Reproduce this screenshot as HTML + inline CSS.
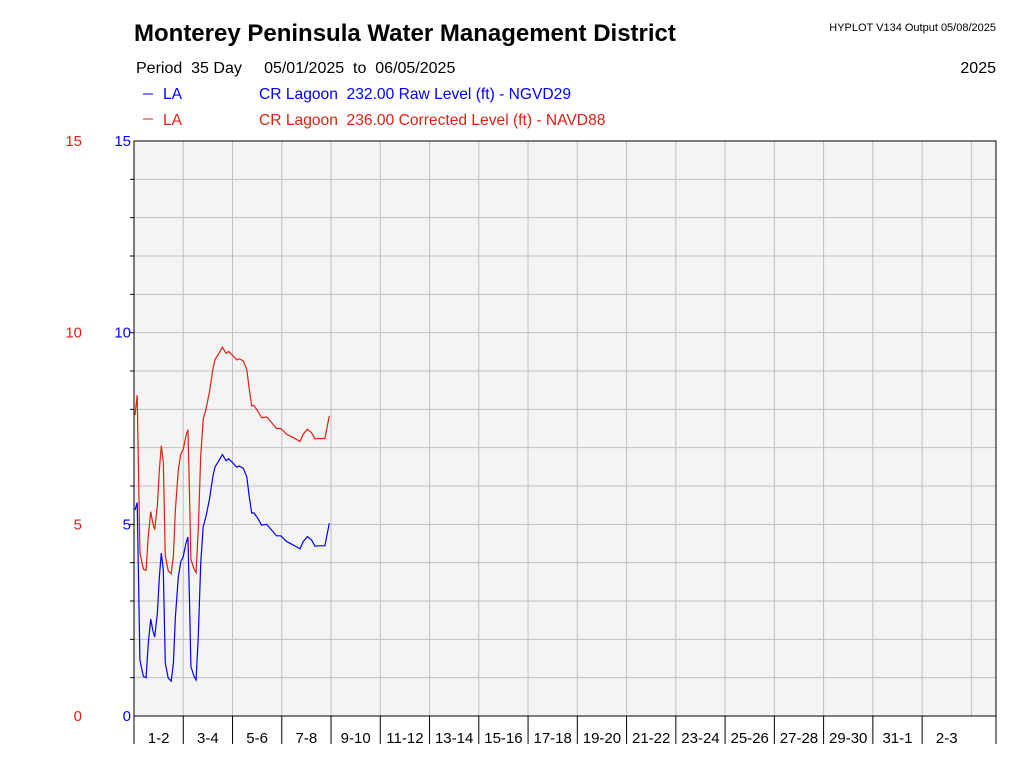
<!DOCTYPE html>
<html><head><meta charset="utf-8"><style>
body{margin:0;background:#fff;width:1024px;height:768px;overflow:hidden;font-family:"Liberation Sans",sans-serif}
svg text{font-family:"Liberation Sans",sans-serif}
</style></head><body>
<svg id="c" width="1024" height="768">
<text x="134" y="41" font-size="24" font-weight="bold">Monterey Peninsula Water Management District</text>
<text x="996" y="31" font-size="11" text-anchor="end">HYPLOT V134  Output 05/08/2025</text>
<text x="136" y="73" font-size="16" xml:space="preserve">Period  35 Day     05/01/2025  to  06/05/2025</text>
<text x="996" y="73" font-size="16" text-anchor="end">2025</text>
<g>
<line x1="143" y1="94" x2="153" y2="94" stroke="#0000ff"/>
<text x="163" y="99" font-size="15.6" fill="#0000ff">LA</text>
<text x="259" y="99" font-size="15.6" fill="#0000ff" xml:space="preserve">CR Lagoon  232.00 Raw Level (ft) - NGVD29</text>
</g>
<g>
<line x1="143" y1="119" x2="153" y2="119" stroke="#e02010"/>
<text x="163" y="125" font-size="15.6" fill="#e02010">LA</text>
<text x="259" y="125" font-size="15.6" fill="#e02010" xml:space="preserve">CR Lagoon  236.00 Corrected Level (ft) - NAVD88</text>
</g>
<rect x="134" y="141" width="862" height="575" fill="#f4f4f4"/>
<g id="grid"></g>
<g id="axes"></g>
<g id="series"></g>
</svg>
<script>
const days=[0.04,0.13,0.24,0.38,0.49,0.58,0.68,0.76,0.84,0.95,1.03,1.11,1.19,1.27,1.39,1.51,1.60,1.68,1.80,1.90,2.00,2.11,2.19,2.25,2.31,2.44,2.52,2.61,2.71,2.81,2.92,3.06,3.20,3.29,3.42,3.59,3.74,3.84,3.97,4.17,4.28,4.44,4.58,4.68,4.78,4.87,5.05,5.18,5.39,5.59,5.79,5.96,6.20,6.47,6.74,6.87,7.04,7.21,7.35,7.48,7.75,7.93];
const rawLevel=[5.37,5.57,1.46,1.03,1.0,1.9,2.53,2.24,2.06,2.69,3.63,4.25,3.81,1.38,0.99,0.91,1.38,2.58,3.63,4.03,4.16,4.51,4.67,3.1,1.29,1.03,0.94,2.07,3.99,4.94,5.2,5.64,6.24,6.5,6.63,6.82,6.66,6.71,6.63,6.49,6.52,6.46,6.24,5.72,5.29,5.3,5.13,4.98,5.0,4.85,4.7,4.7,4.55,4.46,4.36,4.55,4.68,4.59,4.43,4.44,4.44,5.03];
const correctedLevel=[7.85,8.37,4.26,3.83,3.8,4.7,5.33,5.04,4.86,5.49,6.43,7.05,6.61,4.18,3.79,3.71,4.18,5.38,6.43,6.83,6.96,7.31,7.47,5.9,4.09,3.83,3.74,4.87,6.79,7.74,8.0,8.44,9.04,9.3,9.43,9.62,9.46,9.51,9.43,9.29,9.32,9.26,9.04,8.52,8.09,8.1,7.93,7.78,7.8,7.65,7.5,7.5,7.35,7.26,7.16,7.35,7.48,7.39,7.23,7.24,7.24,7.83];
const yTicks=[0,5,10,15];
const xLabels=["1-2","3-4","5-6","7-8","9-10","11-12","13-14","15-16","17-18","19-20","21-22","23-24","25-26","27-28","29-30","31-1","2-3"];
const X0=134,X1=996,Y0=716,Y1=141,NDAYS=35,YMAX=15;
const xs=d=>X0+d*(X1-X0)/NDAYS, ys=v=>Y0-v*(Y0-Y1)/YMAX;
const NS="http://www.w3.org/2000/svg";
function mk(p,t,a){const e=document.createElementNS(NS,t);for(const k in a)e.setAttribute(k,a[k]);p.appendChild(e);return e;}
const grid=document.getElementById('grid'),axes=document.getElementById('axes'),ser=document.getElementById('series');
for(let v=1;v<YMAX;v++){const l=mk(grid,'line',{x1:X0,x2:X1,y1:ys(v),y2:ys(v),stroke:'#c0c0c0'});


mk(axes,'line',{x1:X0-4,x2:X0,y1:ys(v),y2:ys(v),stroke:'#000'});}
for(let d=2;d<NDAYS;d+=2){const l=mk(grid,'line',{x1:xs(d),x2:xs(d),y1:Y1,y2:Y0,stroke:'#c0c0c0'});

}
const b=mk(axes,'rect',{x:X0,y:Y1,width:X1-X0,height:Y0-Y1,fill:'none',stroke:'#000'});


yTicks.forEach(v=>{
const t1=mk(axes,'text',{x:82,y:ys(v)+5,'font-size':15,fill:'#e02010','text-anchor':'end'});t1.textContent=v;


const t2=mk(axes,'text',{x:131,y:ys(v)+5,'font-size':15,fill:'#0000ff','text-anchor':'end'});t2.textContent=v;

});
xLabels.forEach((s,i)=>{
mk(axes,'line',{x1:xs(i*2),x2:xs(i*2),y1:Y0,y2:744,stroke:'#000'});
const t=mk(axes,'text',{x:xs(i*2+1),y:743,'font-size':15,'text-anchor':'middle'});t.textContent=s;

});
mk(axes,'line',{x1:X1,x2:X1,y1:Y0,y2:744,stroke:'#000'});
function line(vals,col,name){const p=mk(ser,'polyline',{points:days.map((d,i)=>xs(d)+','+ys(vals[i])).join(' '),fill:'none',stroke:col,'stroke-width':1.2});

}
line(correctedLevel,'#e02010','corrected-level-line');
line(rawLevel,'#0000ff','raw-level-line');
</script>
</body></html>
